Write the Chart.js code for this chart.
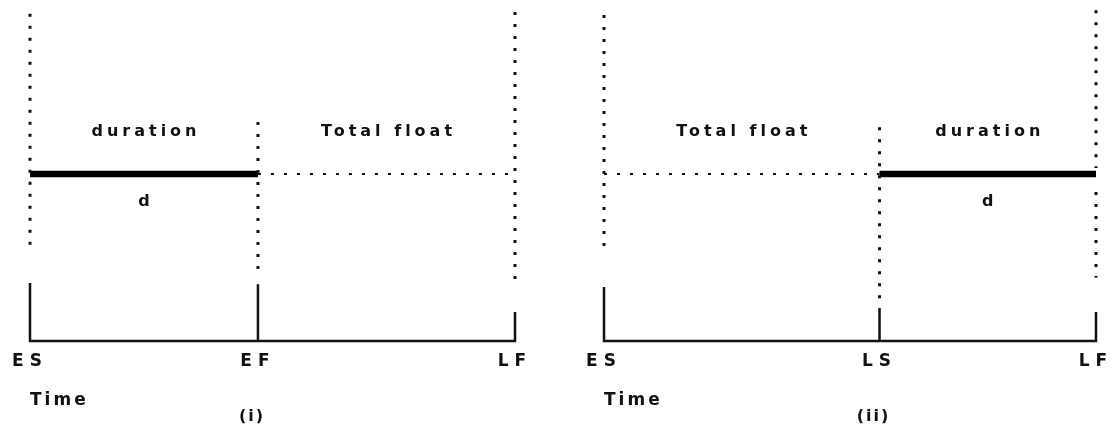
<!DOCTYPE html>
<html><head><meta charset="utf-8">
<script src="https://cdn.jsdelivr.net/npm/chart.js@4.4.1/dist/chart.umd.min.js"></script>
<style>
html,body{margin:0;padding:0;overflow:hidden;background:#fff;width:1111px;height:433px;}
#p1{position:absolute;left:0;top:0;}
#p2{position:absolute;left:556px;top:0;}
</style></head><body>
<canvas id="p1" width="560" height="433"></canvas>
<canvas id="p2" width="600" height="433"></canvas>
<script>
// ---------------- Data ----------------
// Panel (i): activity scheduled at its earliest start
const p1TickLabels = ['ES', 'EF', 'LF'];
const p1TickTimes = [0, 47, 100];
const p1SpanLabels = ['duration', 'Total float'];
const p1BarSpan = [0, 47];          // solid bar = duration d
const p1FloatSpan = [47, 100];      // dotted = total float
const p1GuideTimes = [0, 47, 100];  // dotted vertical guides
const p1GuideTops = [98, 65.6, 98.5];
const p1GuideBottoms = [28, 19.2, 18.3];
const p1TickTops = [17.4, 17, 8.7]; // solid marks above the time axis
const p1Caption = '(i)';

// Panel (ii): activity scheduled at its latest start
const p2TickLabels = ['ES', 'LS', 'LF'];
const p2TickTimes = [0, 56, 100];
const p2SpanLabels = ['Total float', 'duration'];
const p2BarSpan = [56, 100];
const p2FloatSpan = [0, 56];
const p2GuideTimes = [0, 56, 100, 100];
const p2GuideTops = [97.6, 64, 99, 44.6];
const p2GuideBottoms = [27.2, 12.3, 51.8, 18.9];
const p2TickTops = [16.2, 9.9, 8.7];
const p2Caption = '(ii)';

const activityLevel = 50;
const axisTitle = 'Time';
const barLabel = 'd';

// ---------------- Drawing ----------------
const INK = '#111';
const FONT = "'DejaVu Sans', 'Liberation Sans', Arial, sans-serif";

function seg(x0, y0, x1, y1) { return [{x: x0, y: y0}, {x: x1, y: y1}]; }

function makePanel(id, p, pad) {
  const datasets = [];
  p.guideTimes.forEach((t, i) => {
    datasets.push({data: seg(t, p.guideTops[i], t, p.guideBottoms[i]),
      borderColor: INK, borderWidth: 3, borderDash: [3, 9], borderCapStyle: 'butt'});
  });
  datasets.push({data: seg(p.floatSpan[0], activityLevel, p.floatSpan[1], activityLevel),
    borderColor: INK, borderWidth: 2, borderDash: [3, 10], borderCapStyle: 'butt'});
  const t = p.tickTimes;
  datasets.push({data: [{x: t[0], y: p.tickTops[0]}, {x: t[0], y: 0}, {x: t[2], y: 0}, {x: t[2], y: p.tickTops[2]}],
    borderColor: INK, borderWidth: 2.5});
  datasets.push({data: seg(t[1], 0, t[1], p.tickTops[1]), borderColor: INK, borderWidth: 2.5});
  datasets.push({data: seg(p.barSpan[0], activityLevel, p.barSpan[1], activityLevel),
    borderColor: '#000', borderWidth: 6.5, borderCapStyle: 'butt'});
  datasets.forEach(d => { d.showLine = true; d.pointRadius = 0; d.clip = false; d.fill = false; d.tension = 0; });

  const textPlugin = {
    id: 'diagramText',
    beforeDraw(chart) { chart.ctx.letterSpacing = '3px'; },          // axis title
    afterDatasetsDraw(chart) { chart.ctx.letterSpacing = '6px'; },   // tick labels (z = 1)
    afterDraw(chart) {
      const {ctx, scales: {x, y}} = chart;
      ctx.save();
      ctx.fillStyle = INK;
      ctx.textAlign = 'center';
      ctx.textBaseline = 'middle';
      ctx.font = 'bold 16px ' + FONT;
      ctx.letterSpacing = '4px';
      const yl = y.getPixelForValue(activityLevel);
      for (let i = 0; i < p.spanLabels.length; i++) {
        const xm = x.getPixelForValue((t[i] + t[i + 1]) / 2);
        ctx.fillText(p.spanLabels[i], xm + 2, yl - 42);
      }
      ctx.fillText(barLabel, x.getPixelForValue((p.barSpan[0] + p.barSpan[1]) / 2) + 2, yl + 28);
      ctx.letterSpacing = '2px';
      ctx.fillText(p.caption, x.getPixelForValue(t[1]) - 6, 417);
      ctx.restore();
    }
  };

  return new Chart(document.getElementById(id), {
    type: 'scatter',
    data: {datasets},
    plugins: [textPlugin],
    options: {
      responsive: false,
      animation: false,
      events: [],
      layout: {padding: pad},
      plugins: {legend: {display: false}, tooltip: {enabled: false}},
      scales: {
        x: {
          type: 'linear', min: 0, max: 100, offset: false,
          grid: {display: false, drawTicks: false},
          border: {display: false},
          afterBuildTicks(s) { s.ticks = p.tickTimes.map(v => ({value: v})); },
          afterFit(s) { s.height = 92; },
          ticks: {
            z: 1, autoSkip: false, maxRotation: 0, padding: 10, color: INK,
            font: {family: FONT, size: 17, weight: 'bold'},
            callback: (v, i) => p.tickLabels[i]
          },
          title: {display: true, text: axisTitle, align: 'start', color: INK,
            font: {family: FONT, size: 17, weight: 'bold'}, padding: {top: 0, bottom: 22}}
        },
        y: {type: 'linear', min: 0, max: 100, display: false}
      }
    }
  });
}

makePanel('p1', {
  tickLabels: p1TickLabels, tickTimes: p1TickTimes, spanLabels: p1SpanLabels,
  barSpan: p1BarSpan, floatSpan: p1FloatSpan, guideTimes: p1GuideTimes,
  guideTops: p1GuideTops, guideBottoms: p1GuideBottoms, tickTops: p1TickTops, caption: p1Caption
}, {left: 30, right: 45, top: 7, bottom: 0});

makePanel('p2', {
  tickLabels: p2TickLabels, tickTimes: p2TickTimes, spanLabels: p2SpanLabels,
  barSpan: p2BarSpan, floatSpan: p2FloatSpan, guideTimes: p2GuideTimes,
  guideTops: p2GuideTops, guideBottoms: p2GuideBottoms, tickTops: p2TickTops, caption: p2Caption
}, {left: 48, right: 60, top: 7, bottom: 0});
</script>
</body></html>
